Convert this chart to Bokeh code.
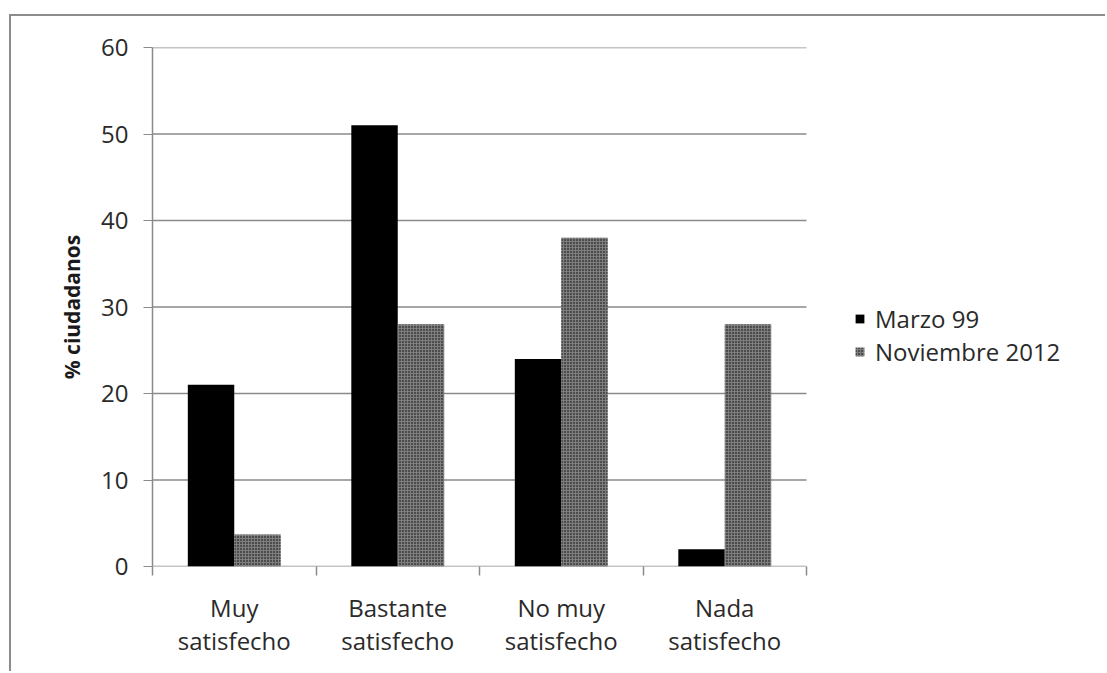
from bokeh.plotting import figure
from bokeh.models import Range1d, FixedTicker, ColumnDataSource, Legend, LegendItem
from bokeh.transform import dodge
from bokeh.embed import file_html
from bokeh.resources import INLINE

categories = ["Muy\nsatisfecho", "Bastante\nsatisfecho", "No muy\nsatisfecho", "Nada\nsatisfecho"]
marzo_99 = [21, 51, 24, 2]
noviembre_2012 = [3.7, 28, 38, 28]
series_names = ["Marzo 99", "Noviembre 2012"]
y_ticks = [0, 10, 20, 30, 40, 50, 60]

FONT = "Open Sans"
GRAY = "#8a8a8a"

n = len(categories)
xc = [i + 0.5 for i in range(n)]
src = ColumnDataSource(dict(x=xc, a=marzo_99, b=noviembre_2012))

# frame extends over the legend area so the legend is not clipped
W, H, LEFT = 1096, 657, 141
plot_px = 654
x_end = n * (W - LEFT) / plot_px

p = figure(width=W, height=H, output_backend="svg", toolbar_location=None,
           x_range=Range1d(0, x_end), y_range=Range1d(0, 60),
           min_border_left=LEFT, min_border_right=0, min_border_top=31, min_border_bottom=107)
p.styles = {"border-top": "2px solid #8c8c8c", "border-left": "2px solid #8c8c8c",
            "margin-left": "9px", "margin-top": "14px"}
p.outline_line_color = None
p.background_fill_color = "white"
p.border_fill_color = "white"

# horizontal gridlines only across the category area
p.segment(x0=[0] * len(y_ticks), x1=[n] * len(y_ticks), y0=y_ticks, y1=y_ticks,
          line_color=GRAY, line_width=1.5)

bw = 0.284
r1 = p.vbar(x=dodge("x", -bw / 2, range=p.x_range), top="a", width=bw, source=src,
            fill_color="black", line_color=None)
r2 = p.vbar(x=dodge("x", bw / 2, range=p.x_range), top="b", width=bw, source=src,
            fill_color="#7e7e7e", line_color=None,
            hatch_pattern="dot", hatch_color="black", hatch_scale=3, hatch_weight=1.3)

# y axis
p.yaxis.ticker = FixedTicker(ticks=y_ticks)
p.yaxis.axis_line_color = GRAY
p.yaxis.axis_line_width = 1.5
p.yaxis.major_tick_line_color = GRAY
p.yaxis.major_tick_out = 9
p.yaxis.major_tick_in = 0
p.yaxis.minor_tick_line_color = None
p.yaxis.major_label_standoff = 15
p.yaxis.major_label_text_font = FONT
p.yaxis.major_label_text_font_size = "24px"
p.yaxis.major_label_text_color = "#2a2a2a"
p.yaxis.axis_label = "% ciudadanos"
p.yaxis.axis_label_text_font = FONT
p.yaxis.axis_label_text_font_style = "bold"
p.yaxis.axis_label_text_font_size = "21px"
p.yaxis.axis_label_text_color = "#1a1a1a"
p.yaxis.axis_label_standoff = 12

# x axis (line drawn by the 0 gridline)
p.xaxis.ticker = FixedTicker(ticks=xc, minor_ticks=list(range(n + 1)))
p.xaxis.major_label_overrides = {x: c for x, c in zip(xc, categories)}
p.xaxis.axis_line_color = None
p.xaxis.major_tick_line_color = None
p.xaxis.major_tick_out = 0
p.xaxis.major_tick_in = 0
p.xaxis.minor_tick_line_color = GRAY
p.xaxis.minor_tick_line_width = 1.5
p.xaxis.minor_tick_out = 9
p.xaxis.minor_tick_in = 0
p.xaxis.major_label_standoff = 15
p.xaxis.major_label_text_font = FONT
p.xaxis.major_label_text_font_size = "24px"
p.xaxis.major_label_text_color = "#2a2a2a"
p.xaxis.major_label_text_line_height = 1.03

p.xgrid.grid_line_color = None
p.ygrid.grid_line_color = None

legend = Legend(items=[LegendItem(label=series_names[0], renderers=[r1]),
                       LegendItem(label=series_names[1], renderers=[r2])],
                location=(702, 198), padding=0, margin=0, spacing=0,
                border_line_color=None, background_fill_alpha=0,
                glyph_width=11, glyph_height=11, label_standoff=10,
                label_height=29, label_text_line_height=0.9,
                label_text_font=FONT, label_text_font_size="24px",
                label_text_color="#2a2a2a")
p.add_layout(legend, "center")

open("out.html", "w").write(file_html(p, INLINE))
